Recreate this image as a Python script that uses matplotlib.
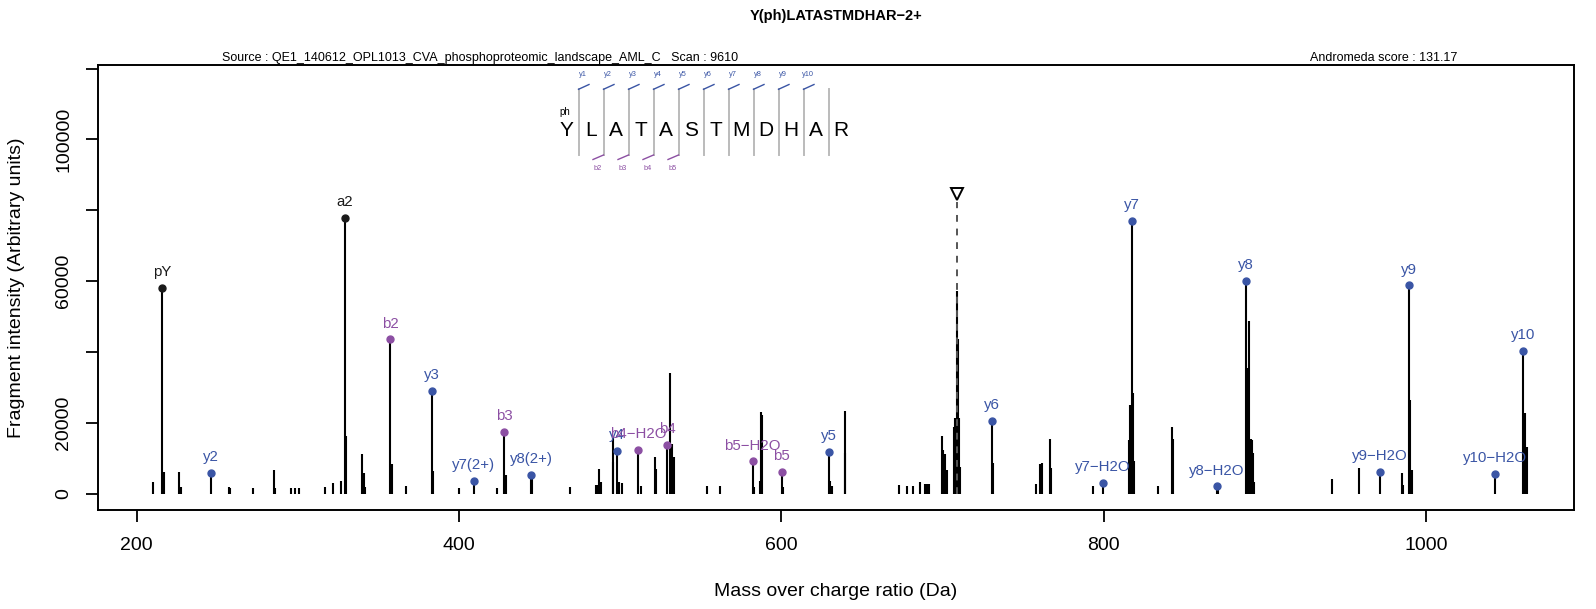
import matplotlib
matplotlib.use("Agg")
import matplotlib.pyplot as plt
import numpy as np

plt.rcParams['font.family'] = ['Liberation Sans', 'DejaVu Sans']

# ---------------- data ----------------
title = "Y(ph)LATASTMDHAR\u22122+"
source_text = "Source : QE1_140612_OPL1013_CVA_phosphoproteomic_landscape_AML_C   Scan : 9610"
score_text = "Andromeda score : 131.17"

# unannotated peaks
peak_mz = [209.9, 216.9, 226.1, 227.7, 257.1, 257.9, 272.0, 285.2, 286.0, 295.9, 298.4, 300.9,
           317.0, 322.0, 327.0, 330.1, 340.0, 341.2, 342.0, 358.4, 367.1, 384.0, 400.2, 423.6,
           429.2, 445.3, 469.1, 485.0, 485.6, 487.1, 488.3, 495.4, 495.8, 499.0, 501.1, 512.7,
           521.6, 522.2, 530.9, 531.5, 532.0, 533.3, 554.1, 562.0, 583.0, 586.8, 587.4, 588.0,
           601.2, 630.3, 631.4, 639.3, 639.8, 673.2, 677.8, 681.9, 686.1, 689.2, 690.2, 691.5,
           699.6, 700.5, 701.8, 702.6, 707.0, 707.6, 708.8, 709.5, 710.1, 710.7, 731.2, 757.9,
           760.7, 761.5, 766.7, 767.1, 793.2, 815.8, 816.4, 818.4, 819.0, 833.7, 842.2, 842.9,
           871.0, 889.0, 890.4, 891.5, 892.1, 892.7, 893.3, 941.6, 958.7, 985.2, 985.6, 990.3,
           991.3, 1061.5, 1062.5]
peak_int = [3200, 6000, 6000, 1800, 2000, 1600, 1500, 6770, 1700, 1600, 1600, 1600,
            1800, 3100, 3600, 16360, 11190, 5730, 1800, 8270, 2070, 6490, 1700, 1500,
            5170, 5000, 1800, 2440, 2440, 7050, 3380, 15790, 9020, 3380, 3000, 2260,
            10430, 6860, 34130, 13740, 13910, 10430, 2070, 2070, 1800, 3670, 22940, 22180,
            1800, 3570, 2160, 23400, 11600, 2440, 2160, 2160, 3290, 2630, 2630, 2630,
            16260, 12310, 11190, 6670, 18890, 21240, 57150, 43620, 21240, 7600, 8740, 2630,
            8370, 8740, 15320, 7140, 2160, 15130, 25000, 28480, 9300, 2160, 18890, 15320,
            1220, 35340, 48690, 15320, 15130, 11370, 3380, 4040, 7140, 5730, 2440, 26320,
            6670, 22650, 13250]

# annotated fragment ions
ion_labels = ["pY", "y2", "a2", "b2", "y3", "y7(2+)", "b3", "y8(2+)", "y4", "b4\u2212H2O", "b4",
              "b5\u2212H2O", "b5", "y5", "y6", "y7\u2212H2O", "y7", "y8\u2212H2O", "y8",
              "y9\u2212H2O", "y9", "y10\u2212H2O", "y10"]
ion_mz = [215.9, 246.1, 329.3, 357.2, 383.2, 409.3, 428.1, 444.9, 498.2, 511.3, 529.3,
          582.2, 600.4, 629.4, 730.6, 799.4, 817.4, 870.4, 888.4, 971.5, 989.5, 1042.7, 1060.5]
ion_int = [58110, 5840, 77800, 43560, 29060, 3500, 17400, 5360, 12130, 12270, 13820,
           9140, 6120, 11850, 20590, 3100, 77010, 2080, 60090, 6120, 58790, 5640, 40260]
ion_type = ["other", "y", "other", "b", "y", "y", "b", "y", "y", "b", "b",
            "b", "b", "y", "y", "y", "y", "y", "y", "y", "y", "y", "y"]

precursor_mz = 708.8
precursor_marker = 84700

sequence = list("YLATASTMDHAR")
y_flags = ["y1", "y2", "y3", "y4", "y5", "y6", "y7", "y8", "y9", "y10"]
b_flags = ["b2", "b3", "b4", "b5"]

x_ticks = [200, 400, 600, 800, 1000]
y_ticks = [0, 20000, 40000, 60000, 80000, 100000, 120000]
y_ticklabels = ["0", "20000", "", "60000", "", "100000", ""]

# ---------------- style ----------------
W, H = 1596, 609
col = {"y": "#3A55A5", "b": "#8C4FA3", "other": "#1a1a1a"}

fig = plt.figure(figsize=(W / 100, H / 100), dpi=100)
L, R, B, T = 98.3, 1574, 510, 65
ax = fig.add_axes([L / W, 1 - B / H, (R - L) / W, (B - T) / H])

ax.vlines(peak_mz, 0, peak_int, color="black", lw=1.5)
for lab, mz, it, tp in zip(ion_labels, ion_mz, ion_int, ion_type):
    c = col[tp]
    ax.vlines(mz, 0, it, color="black", lw=1.5, zorder=3)
    ax.plot(mz, it, "o", color=c, ms=5, zorder=4)
    ax.annotate(lab, (mz, it), xytext=(0, 8.5), textcoords="offset points",
                ha="center", va="baseline", color=c, fontsize=10.8, zorder=5)

# precursor
ax.vlines(precursor_mz, 0, precursor_marker - 2500, color="#555555", lw=1.4,
          linestyles=(0, (3.5, 3.5)), zorder=6)
ax.plot(precursor_mz, precursor_marker, "v", ms=9, mfc="white", mec="black", mew=1.4, zorder=7)

ax.set_xlim(176.2, 1091.9)
ax.set_ylim(-4600, 121000)
ax.set_xticks(x_ticks)
ax.set_xticklabels([str(t) for t in x_ticks])
ax.set_yticks(y_ticks)
ax.set_yticklabels(y_ticklabels, rotation=90, va="center")
ax.tick_params(axis="both", direction="out", length=8.8, width=1.3, labelsize=14)
ax.tick_params(axis="x", pad=11)
ax.tick_params(axis="y", pad=10)
for s in ax.spines.values():
    s.set_linewidth(1.4)
ax.set_xlabel("Mass over charge ratio (Da)", fontsize=14)
ax.set_ylabel("Fragment intensity (Arbitrary units)", fontsize=14)
ax.xaxis.set_label_coords((836 - L) / (R - L), -(591 - B) / (B - T), transform=ax.transAxes)
ax.yaxis.set_label_coords(-(L - 16.7) / (R - L), (B - 287.5) / (B - T))
ax.xaxis.label.set_va("center")
ax.yaxis.label.set_va("center")


def fx(px):
    return px / W


def fy(py):
    return 1 - py / H


fig.text(fx(836), fy(16.3), title, ha="center", va="center", fontsize=10.5, fontweight="bold")
fig.text(fx(222), fy(61), source_text, ha="left", va="baseline", fontsize=9)
fig.text(fx(1457), fy(61), score_text, ha="right", va="baseline", fontsize=9)

# peptide sequence annotation
x0, dx = 566.0, 25.0
yc = 130
for i, aa in enumerate(sequence):
    fig.text(fx(x0 + i * dx), fy(yc), aa, ha="center", va="center", fontsize=15)
fig.text(fx(564.3), fy(111.7), "ph", ha="center", va="center", fontsize=7)
for i in range(len(sequence) - 1):
    xs = x0 + dx / 2 + i * dx
    fig.add_artist(plt.Line2D([fx(xs), fx(xs)], [fy(88.5), fy(155)], color="#BBBBBB", lw=1.4))
for i, lab in enumerate(y_flags):
    xs = x0 + dx / 2 + i * dx
    fig.add_artist(plt.Line2D([fx(xs), fx(xs + 10.5)], [fy(89.3), fy(84.5)], color=col["y"], lw=1.0))
    fig.text(fx(xs + 4), fy(75), lab, ha="center", va="center", fontsize=5.3, color=col["y"])
for i, lab in enumerate(b_flags):
    xs = x0 + dx / 2 + (i + 1) * dx
    fig.add_artist(plt.Line2D([fx(xs - 10.5), fx(xs)], [fy(159.5), fy(155)], color=col["b"], lw=1.0))
    fig.text(fx(xs - 5.5), fy(169), lab, ha="center", va="center", fontsize=5.3, color=col["b"])

fig.savefig("out.png", dpi=100)
